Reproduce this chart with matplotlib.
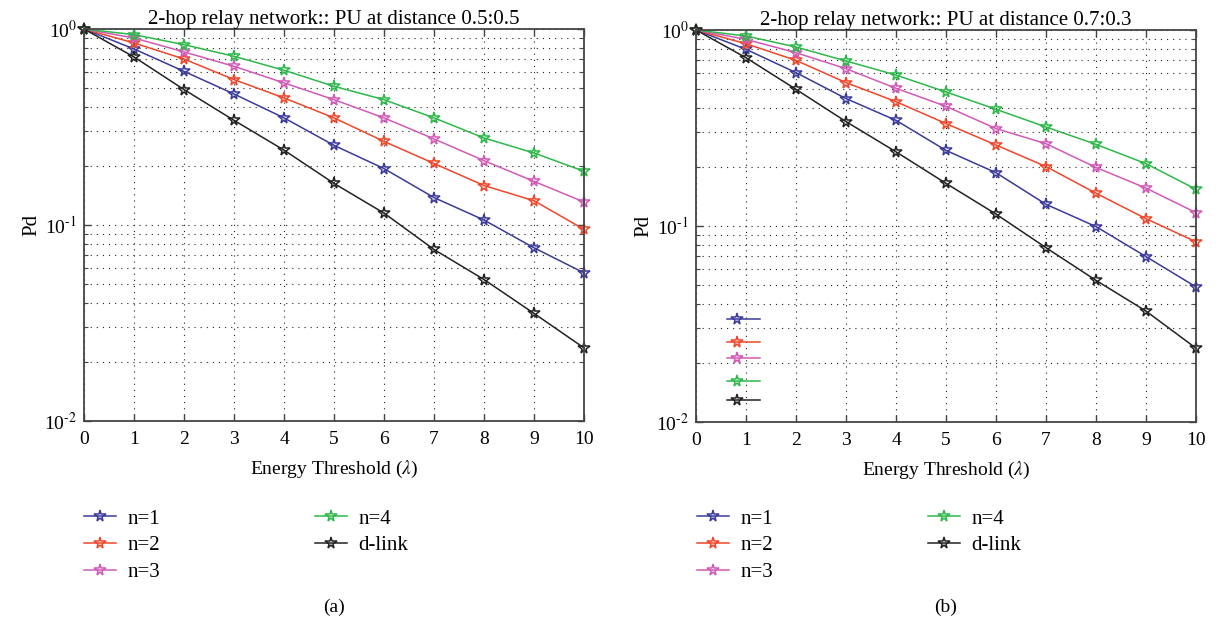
import math
import matplotlib
matplotlib.use("Agg")
import matplotlib.pyplot as plt
from matplotlib.lines import Line2D
from matplotlib.ticker import LogLocator, FixedLocator, FuncFormatter, NullFormatter

plt.rcParams['font.family'] = ['Liberation Serif', 'DejaVu Serif']
plt.rcParams['mathtext.fontset'] = 'stix'

threshold = list(range(0, 11))

labels = ['n=1', 'n=2', 'n=3', 'n=4', 'd-link']
colors = ['#3a3a9c', '#f0462a', '#d15ab6', '#2db84a', '#222222']

# PU at distance 0.5:0.5
pd_a = {
    'n=1':    [1.0, 0.791, 0.608, 0.466, 0.352, 0.255, 0.194, 0.138, 0.106, 0.0765, 0.057],
    'n=2':    [1.0, 0.849, 0.703, 0.552, 0.445, 0.352, 0.267, 0.206, 0.159, 0.133, 0.095],
    'n=3':    [1.0, 0.900, 0.764, 0.645, 0.531, 0.436, 0.352, 0.275, 0.213, 0.167, 0.131],
    'n=4':    [1.0, 0.936, 0.832, 0.726, 0.616, 0.510, 0.436, 0.352, 0.278, 0.233, 0.188],
    'd-link': [1.0, 0.720, 0.491, 0.342, 0.241, 0.163, 0.115, 0.075, 0.0527, 0.0354, 0.0236],
}

# PU at distance 0.7:0.3
pd_b = {
    'n=1':    [1.0, 0.797, 0.606, 0.447, 0.346, 0.243, 0.187, 0.129, 0.0993, 0.0698, 0.0489],
    'n=2':    [1.0, 0.851, 0.700, 0.539, 0.431, 0.333, 0.259, 0.201, 0.147, 0.109, 0.083],
    'n=3':    [1.0, 0.896, 0.766, 0.635, 0.504, 0.408, 0.314, 0.263, 0.199, 0.156, 0.117],
    'n=4':    [1.0, 0.932, 0.819, 0.695, 0.589, 0.483, 0.394, 0.320, 0.261, 0.208, 0.154],
    'd-link': [1.0, 0.722, 0.498, 0.341, 0.239, 0.165, 0.115, 0.0775, 0.0528, 0.0368, 0.0238],
}

titles = ['2-hop relay network:: PU at distance 0.5:0.5',
          '2-hop relay network:: PU at distance 0.7:0.3']
captions = ['(a)', '(b)']

W, H = 1218, 623
fig = plt.figure(figsize=(W / 100, H / 100), dpi=100)

ax_boxes = [
    (84 / W, 1 - 421 / H, 500 / W, 392 / H),
    (696 / W, 1 - 422 / H, 500 / W, 392 / H),
]

FS = 14


def pow_fmt(v, pos):
    e = int(round(math.log10(v)))
    return r'10$^{\text{%d}}$' % e


def style_axes(ax):
    ax.set_yscale('log')
    ax.set_xlim(0, 10)
    ax.set_ylim(1e-2, 1)
    ax.xaxis.set_major_locator(FixedLocator(threshold))
    ax.yaxis.set_major_locator(LogLocator(base=10, numticks=5))
    ax.yaxis.set_minor_locator(LogLocator(base=10, subs=range(2, 10), numticks=20))
    ax.yaxis.set_major_formatter(FuncFormatter(pow_fmt))
    ax.yaxis.set_minor_formatter(NullFormatter())
    ax.tick_params(which='both', direction='in', top=True, right=True,
                   labelsize=FS, color='#444444')
    ax.tick_params(axis='x', which='major', pad=7)
    ax.tick_params(axis='y', which='major', pad=5)
    ax.tick_params(which='major', length=5, width=1.0)
    ax.tick_params(which='minor', length=3, width=0.8)
    ax.grid(True, which='major', axis='both', color='#222222',
            linestyle=(0, (1, 4.5)), linewidth=0.8)
    ax.grid(True, which='minor', axis='y', color='#222222',
            linestyle=(0, (1, 4.5)), linewidth=0.8)
    for s in ax.spines.values():
        s.set_linewidth(1.3)
        s.set_color('#444444')
    ax.set_xlabel(r'Energy Threshold ($\lambda$)', fontsize=FS, labelpad=8)
    ax.set_ylabel('Pd', fontsize=15, labelpad=2)


datasets = [pd_a, pd_b]
legend_x = [84 / W, 697 / W]

for i, data in enumerate(datasets):
    ax = fig.add_axes(ax_boxes[i])
    handles = []
    for lab, col in zip(labels, colors):
        ln, = ax.plot(threshold, data[lab], color=col, linewidth=1.1,
                      marker='*', markersize=8.5, markerfacecolor='none',
                      markeredgecolor=col, markeredgewidth=1.1, label=lab,
                      clip_on=False)
        handles.append(ln)
    style_axes(ax)
    ax.set_title(titles[i], fontsize=15, pad=2)

    fig.legend(handles=handles, labels=labels, loc='upper left',
               bbox_to_anchor=(legend_x[i], 1 - 509 / H), ncol=2,
               frameon=False, fontsize=15, handlelength=1.55, handletextpad=0.55,
               columnspacing=7.4, labelspacing=0.35, borderpad=0, borderaxespad=0)

    fig.text(ax_boxes[i][0] + ax_boxes[i][2] / 2, 1 - 607 / H, captions[i],
             ha='center', va='center', fontsize=FS)

# Text-less legend key drawn inside the second panel
ax_b = fig.axes[-1]
key_rows = [0.264, 0.205, 0.164, 0.105, 0.056]
for yy, col in zip(key_rows, colors):
    ax_b.add_line(Line2D([0.062, 0.128], [yy, yy], transform=ax_b.transAxes,
                         color=col, linewidth=1.1))
    ax_b.add_line(Line2D([0.082], [yy], transform=ax_b.transAxes, color=col,
                         marker='*', markersize=8.5, markerfacecolor='none',
                         markeredgecolor=col, markeredgewidth=1.1))

fig.savefig('out.png', dpi=100)
